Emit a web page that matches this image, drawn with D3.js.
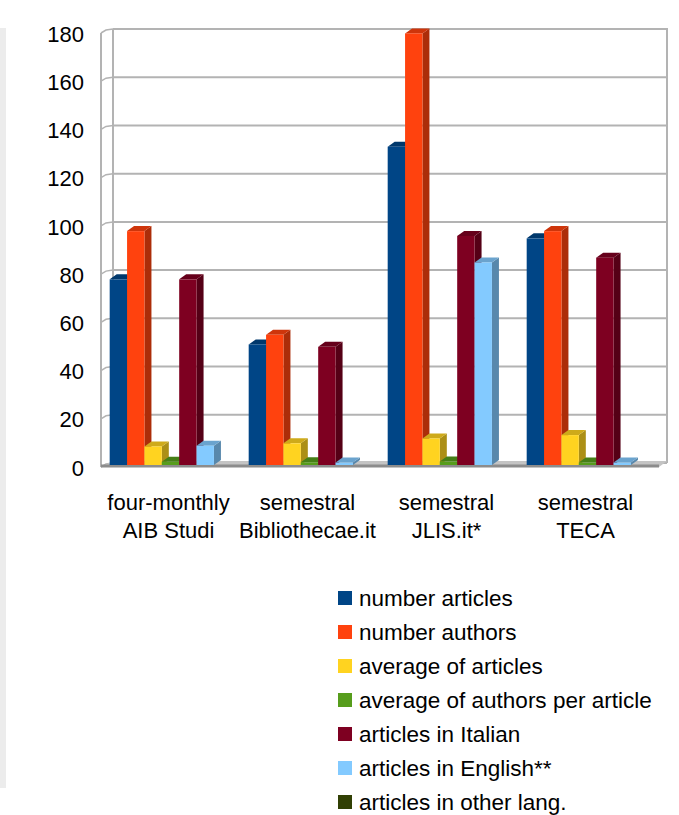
<!DOCTYPE html>
<html>
<head>
<meta charset="utf-8">
<script src="https://cdn.jsdelivr.net/npm/d3@7"></script>
<style>
  body { margin: 0; background: #fff; }
  text { font-family: "Liberation Sans", Arial, sans-serif; fill: #000; }
</style>
</head>
<body>
<div id="chart"></div>
<script>
// chart data
var groups = ["AIB Studi", "Bibliothecae.it", "JLIS.it*", "TECA"];
var groupLine1 = ["four-monthly", "semestral", "semestral", "semestral"];
var groupLine2 = ["AIB Studi", "Bibliothecae.it", "JLIS.it*", "TECA"];
var seriesNames = ["number articles", "number authors", "average of articles",
  "average of authors per article", "articles in Italian", "articles in English**",
  "articles in other lang."];
var seriesColors = ["#004586", "#ff420e", "#ffd320", "#579d1c", "#7e0021", "#83caff", "#314004"];
var numberArticles = [77, 50, 132, 94];
var numberAuthors = [97, 54, 179, 97];
var averageArticles = [7.7, 9, 11, 12.4];
var averageAuthors = [1.3, 1.1, 1.4, 1.0];
var articlesItalian = [77, 49, 95, 86];
var articlesEnglish = [8, 1, 84, 1];
var articlesOther = [0, 0, 0, 0];
var yTicks = [0, 20, 40, 60, 80, 100, 120, 140, 160, 180];

var seriesValues = [numberArticles, numberAuthors, averageArticles, averageAuthors,
  articlesItalian, articlesEnglish, articlesOther];

var svgWidth = 679;
var svgHeight = 815;

var svg = d3.select("#chart")
  .append("svg")
  .attr("width", svgWidth)
  .attr("height", svgHeight);

// light strip on the left edge
svg.append("rect")
  .attr("x", 0).attr("y", 28)
  .attr("width", 6).attr("height", 760)
  .attr("fill", "#ececec");

// back plane scale and 3d offsets
var y = d3.scaleLinear().domain([0, 180]).range([463, 29]);
var backLeft = 113, backRight = 667;
var frontLeft = 101, frontDrop = 4;

var x0 = d3.scaleBand().domain(groups).range([101, 657]);
var x1 = d3.scaleBand().domain(d3.range(seriesNames.length))
  .range([0, x0.bandwidth()]).paddingInner(0).paddingOuter(0.5);

var gridColor = "#b3b3b3";

// left side wall
svg.append("line")
  .attr("x1", frontLeft).attr("x2", frontLeft)
  .attr("y1", y(180) + frontDrop).attr("y2", y(0) + frontDrop)
  .attr("stroke", gridColor).attr("stroke-width", 2);
svg.append("line")
  .attr("x1", backLeft).attr("x2", backLeft)
  .attr("y1", y(180)).attr("y2", y(0))
  .attr("stroke", gridColor).attr("stroke-width", 2);

// grid lines on back wall + slanted ticks on side wall
svg.selectAll(".grid")
  .data(yTicks)
  .enter()
  .append("line")
  .attr("class", "grid")
  .attr("x1", backLeft).attr("x2", backRight)
  .attr("y1", d => y(d)).attr("y2", d => y(d))
  .attr("stroke", gridColor).attr("stroke-width", 2);

svg.selectAll(".sidetick")
  .data(yTicks)
  .enter()
  .append("path")
  .attr("class", "sidetick")
  .attr("d", d => `M${frontLeft},${y(d) + frontDrop} L${frontLeft + 5},${y(d) + 1} L${backLeft},${y(d)}`)
  .attr("fill", "none")
  .attr("stroke", gridColor).attr("stroke-width", 1.5);

// right border of back wall
svg.append("line")
  .attr("x1", backRight).attr("x2", backRight)
  .attr("y1", y(180) - 1).attr("y2", y(0))
  .attr("stroke", gridColor).attr("stroke-width", 2);

// floor
svg.append("path")
  .attr("d", `M${frontLeft},${y(0) + frontDrop} L${backLeft},${y(0) - 2} L${backRight},${y(0) - 2} L${backRight - 8},${y(0) + frontDrop} Z`)
  .attr("fill", "#c4c4c4");
svg.append("line")
  .attr("x1", frontLeft).attr("x2", backRight - 8)
  .attr("y1", y(0) + frontDrop - 1).attr("y2", y(0) + frontDrop - 1)
  .attr("stroke", "#8c8c8c").attr("stroke-width", 3);

// y tick labels
svg.selectAll(".ylabel")
  .data(yTicks)
  .enter()
  .append("text")
  .attr("class", "ylabel")
  .attr("x", 84)
  .attr("y", d => y(d) + 5)
  .attr("dy", "0.35em")
  .attr("text-anchor", "end")
  .style("font-size", "22px")
  .text(d => d);

// bars (3d boxes)
var dx = 7, dy = -5, barDrop = 2;
var barData = [];
groups.forEach(function(g, gi) {
  seriesValues.forEach(function(vals, si) {
    barData.push({ group: g, series: si, value: vals[gi] });
  });
});

var bars = svg.selectAll(".bar")
  .data(barData.filter(d => d.value > 0))
  .enter()
  .append("g")
  .attr("class", "bar");

bars.each(function(d) {
  var g = d3.select(this);
  var bx = x0(d.group) + x1(d.series);
  var bw = x1.bandwidth();
  var top = y(d.value) + barDrop;
  var bottom = y(0) + barDrop;
  var c = d3.color(seriesColors[d.series]);
  // side face
  g.append("path")
    .attr("d", `M${bx + bw},${top} L${bx + bw + dx},${top + dy} L${bx + bw + dx},${bottom + dy} L${bx + bw},${bottom} Z`)
    .attr("fill", c.darker(1.1));
  // top face
  g.append("path")
    .attr("d", `M${bx},${top} L${bx + dx},${top + dy} L${bx + bw + dx},${top + dy} L${bx + bw},${top} Z`)
    .attr("fill", c.darker(0.6));
  // front face
  g.append("rect")
    .attr("x", bx).attr("y", top)
    .attr("width", bw).attr("height", bottom - top)
    .attr("fill", c);
});

// category labels
svg.selectAll(".xlabel1")
  .data(groups)
  .enter()
  .append("text")
  .attr("class", "xlabel1")
  .attr("x", d => x0(d) + x0.bandwidth() / 2 - 2)
  .attr("y", 510)
  .attr("text-anchor", "middle")
  .style("font-size", "22px")
  .text((d, i) => groupLine1[i]);

svg.selectAll(".xlabel2")
  .data(groups)
  .enter()
  .append("text")
  .attr("class", "xlabel2")
  .attr("x", d => x0(d) + x0.bandwidth() / 2 - 2)
  .attr("y", 538)
  .attr("text-anchor", "middle")
  .style("font-size", "22px")
  .text((d, i) => groupLine2[i]);

// legend
var legend = svg.selectAll(".legend")
  .data(seriesNames)
  .enter()
  .append("g")
  .attr("class", "legend")
  .attr("transform", (d, i) => `translate(338, ${598 + i * 34})`);

legend.append("rect")
  .attr("x", 0).attr("y", -7)
  .attr("width", 14).attr("height", 14)
  .attr("fill", (d, i) => seriesColors[i]);

legend.append("text")
  .attr("x", 21)
  .attr("y", 0)
  .attr("dy", "0.35em")
  .style("font-size", "22.5px")
  .text(d => d);
</script>
</body>
</html>
